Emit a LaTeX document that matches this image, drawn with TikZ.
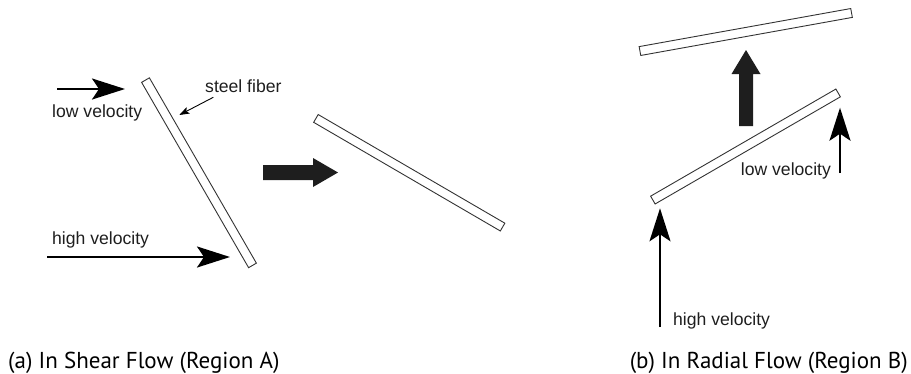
\documentclass[tikz,border=0pt]{standalone}
\usepackage{fontspec}
\setmainfont{Liberation Sans}
\newfontfamily\capfont{PT Sans}
\usetikzlibrary{arrows.meta}
\definecolor{ink}{HTML}{1E1E1E}
\definecolor{fibline}{HTML}{333333}
\tikzset{
  fiber/.style={draw=fibline, line width=0.9pt, fill=white, rectangle, inner sep=0pt, minimum height=9pt},
  lbl/.style={anchor=base west, inner sep=0pt, text=ink, font=\fontsize{17.6}{20}\selectfont},
  caption/.style={inner sep=0pt, text=black, font=\capfont\fontsize{23}{26}\selectfont},
  velarrow/.style={draw=black, line width=2.3pt, -{Stealth[length=33pt,width=21pt,inset=7pt]}},
  pointer/.style={draw=black, line width=0.9pt, -{Stealth[length=10pt,width=7pt,inset=2pt]}},
  fatarrow/.style={fill=ink, draw=none}
}
\begin{document}
\begin{tikzpicture}[x=1pt,y=-1pt]
\useasboundingbox (0,0) rectangle (911,373);

% ---------- (a) shear flow ----------
\node[fiber, minimum width=214pt, rotate=-60] (fibA) at (199,172.75) {};
\node[fiber, minimum width=216pt, rotate=-30.2] (fibA2) at (409.25,172.75) {};

\coordinate (lowAs) at (57,89);
\coordinate (lowAe) at (125,89);
\draw[velarrow] (lowAs) -- (lowAe);
\node[lbl] (lowAl) at (52,117.7) {low velocity};

\coordinate (highAs) at (47,257);
\coordinate (highAe) at (230,257);
\draw[velarrow] (highAs) -- (highAe);
\node[lbl] (highAl) at (52,244) {high velocity};

\node[lbl] (steel) at (205,92.3) {steel fiber};
\coordinate (steelS) at (213.3,97.3);
\coordinate (steelT) at (179.3,115);
\draw[pointer] (steelS) -- (steelT);

\path[fatarrow] (263,165) -- (313,165) -- (313,158) -- (338,172.5) -- (313,187) -- (313,180) -- (263,180) -- cycle;

% ---------- (b) radial flow ----------
\node[fiber, minimum width=215pt, rotate=10.2] (fibB2) at (745.75,32) {};
\node[fiber, minimum width=214pt, rotate=30.04] (fibB) at (745.5,146.5) {};

\path[fatarrow] (739,126) -- (753,126) -- (753,74) -- (760.5,74) -- (746,50) -- (731.5,74) -- (739,74) -- cycle;

\coordinate (lowBs) at (840,173);
\coordinate (lowBe) at (840,107.7);
\draw[velarrow] (lowBs) -- (lowBe);
\node[lbl] (lowBl) at (740.7,175) {low velocity};

\coordinate (highBs) at (660,327);
\coordinate (highBe) at (660,208.3);
\draw[velarrow] (highBs) -- (highBe);
\node[lbl] (highBl) at (673,325.5) {high velocity};

% ---------- captions ----------
\node[caption, anchor=base west] (capA) at (8,368) {(a) In Shear Flow (Region A)};
\node[caption, anchor=base east] (capB) at (908,368) {(b) In Radial Flow (Region B)};
\end{tikzpicture}
\end{document}
